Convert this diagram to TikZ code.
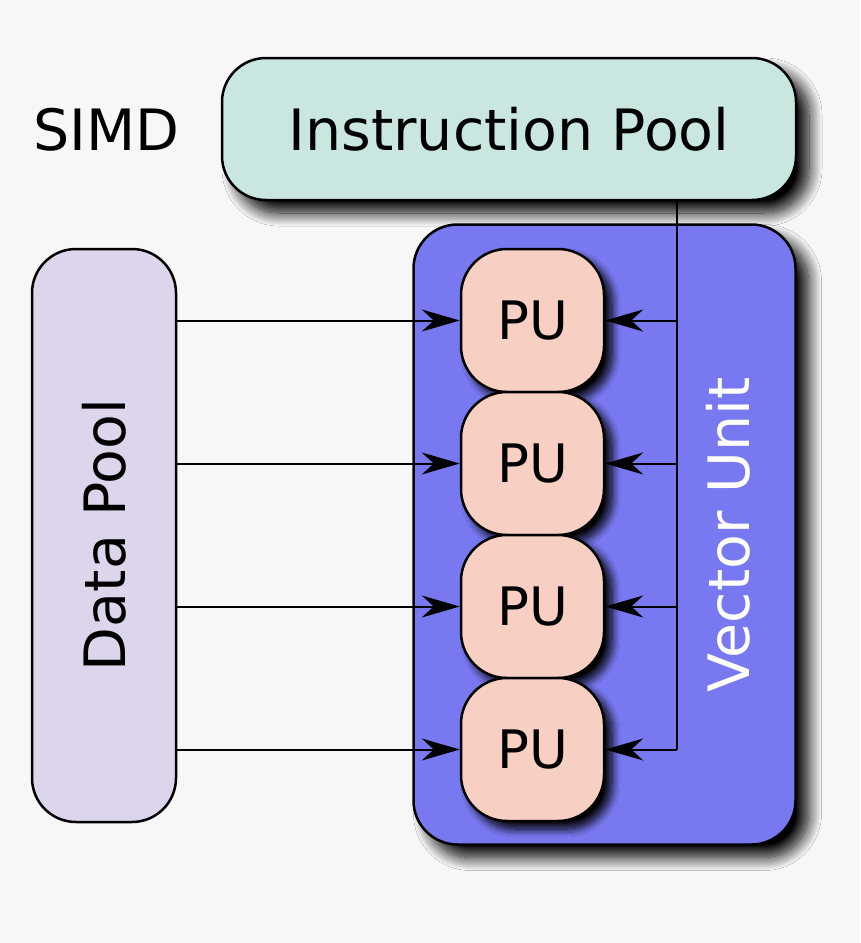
\documentclass[tikz,border=0pt]{standalone}
\usepackage{fontspec}
\setmainfont{DejaVu Sans}
\usetikzlibrary{arrows.meta,shadows.blur}
\definecolor{bgc}{RGB}{247,247,247}
\definecolor{ipc}{RGB}{201,230,225}
\definecolor{dpc}{RGB}{220,213,236}
\definecolor{vuc}{RGB}{120,120,240}
\definecolor{puc}{RGB}{248,207,195}
\begin{document}
\begin{tikzpicture}[x=1pt,y=-1pt,
  box/.style={draw=black, line width=2.5pt, rounded corners=44pt, inner sep=0pt},
  bigshadow/.style={blur shadow={shadow xshift=13pt, shadow yshift=-13pt, shadow blur radius=13pt, shadow blur steps=20, shadow opacity=100}},
  smallshadow/.style={blur shadow={shadow xshift=8pt, shadow yshift=-8pt, shadow blur radius=8pt, shadow blur steps=16, shadow opacity=100}},
  lbl/.style={font=\fontsize{57}{60}\selectfont, inner sep=0pt},
  pulbl/.style={font=\fontsize{53}{56}\selectfont},
  pubox/.style={box, rounded corners=46pt, smallshadow, fill=puc, minimum width=143pt, minimum height=143pt, pulbl},
  arr/.style={line width=2pt, -{Stealth[length=38pt,width=22pt,inset=12pt]}},
  bus/.style={line width=2pt}]
\fill[bgc] (0,0) rectangle (860,943);
\useasboundingbox (0,0) rectangle (860,943);
% Instruction Pool
\node[box, bigshadow, fill=ipc, minimum width=574pt, minimum height=142pt, lbl] (ip) at (509,129) {Instruction Pool};
% SIMD label
\node[lbl] (simd) at (106.5,129.5) {SIMD};
% Vector Unit
\node[box, bigshadow, fill=vuc, minimum width=382pt, minimum height=620pt] (vu) at (604.5,534.5) {};
\node[lbl, text=white, rotate=90] (vut) at (728,535) {Vector Unit};
% Data Pool
\node[box, fill=dpc, minimum width=144pt, minimum height=573pt] (dp) at (104,535.5) {};
\node[lbl, rotate=90] (dpt) at (104,535) {Data Pool};
% PUs
\node[pubox] (pu1) at (532.5,320.5) {PU};
\node[pubox] (pu2) at (532.5,463.5) {PU};
\node[pubox] (pu3) at (532.5,606.5) {PU};
\node[pubox] (pu4) at (532.5,749.5) {PU};
% bus from instruction pool
\coordinate (bt) at (677,200);
\draw[bus] (bt) -- (bt |- pu4);
\foreach \p in {pu1,pu2,pu3,pu4}{
  \draw[arr] (dp.east |- \p) -- (\p.west);
  \draw[arr] (bt |- \p) -- (\p.east);
}
\end{tikzpicture}
\end{document}
